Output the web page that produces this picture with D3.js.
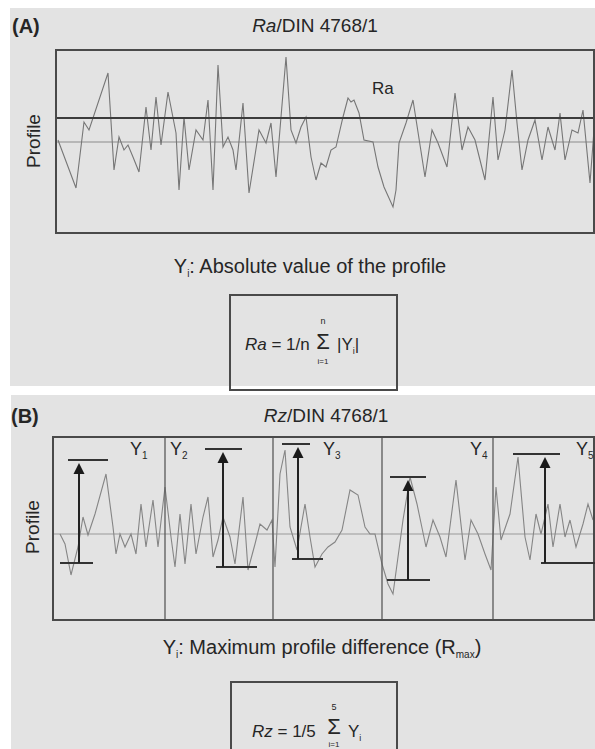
<!DOCTYPE html>
<html>
<head>
<meta charset="utf-8">
<script src="https://cdn.jsdelivr.net/npm/d3@7/dist/d3.min.js"></script>
<style>
	body { margin: 0; background: #fff; }
	text { font-family: 'Liberation Sans', Arial, sans-serif; fill: #262626; }
</style>
</head>
<body>
<div id="container"></div>
<script>

// panel A profile: [position along trace, height above mean line]
var profileA = [[2,2],[20,-46],[28,20],[33,12],[52,69],[58,-28],[63,5],[68,-8],[72,-3],[77,-15],[83,-30],[90,35],[95,-8],[100,45],[105,-3],[112,50],[120,9],[123,-48],[128,25],[133,-28],[140,12],[147,2],[152,42],[157,-48],[162,77],[167,-5],[172,5],[177,-8],[180,-28],[187,39],[193,-51],[203,12],[210,-1],[215,19],[220,-35],[230,85],[235,12],[240,-1],[245,15],[250,25],[255,-15],[260,-38],[265,-21],[270,-25],[275,-8],[280,-5],[287,25],[292,44],[295,40],[298,42],[303,29],[308,2],[317,0],[322,-25],[328,-45],[337,-65],[340,-48],[343,-1],[350,19],[357,42],[369,-35],[376,12],[382,-1],[391,-25],[399,49],[406,-8],[412,15],[419,2],[429,-38],[437,45],[442,-18],[449,12],[456,72],[461,19],[466,-28],[472,2],[479,22],[486,-18],[492,15],[499,-8],[504,29],[509,-18],[516,12],[522,9],[527,32],[534,-41],[538,12]];
var raValue = 24;
var lengthA = 538;

// panel B profile
var profileB = [[7,0],[12,-10],[18,-41],[25,-13],[30,17],[35,-1],[42,20],[53,60],[60,7],[63,-20],[67,0],[72,-13],[78,0],[83,-20],[88,30],[93,-13],[100,34],[105,-13],[112,47],[118,-3],[122,-33],[127,20],[132,-30],[138,30],[143,-20],[150,17],[155,37],[160,-23],[165,-6],[170,17],[177,-3],[182,-30],[190,37],[195,-36],[202,-10],[207,10],[214,4],[219,14],[222,-33],[227,60],[232,84],[237,7],[244,-16],[252,30],[257,-3],[262,-33],[269,-20],[275,-13],[282,-8],[289,4],[297,44],[305,39],[312,7],[317,0],[322,0],[329,-30],[335,-50],[340,-60],[345,-23],[350,14],[357,57],[364,30],[373,-13],[380,14],[387,-3],[393,-23],[403,54],[412,-26],[418,14],[425,0],[432,-20],[438,-36],[443,47],[448,-6],[457,20],[465,77],[472,-3],[477,-26],[483,20],[488,0],[495,30],[500,-13],[507,30],[512,-3],[517,14],[523,-13],[530,10],[535,30],[540,14]];
var segmentBounds = [0,112,220,329,440,542];
var segmentNames = ['1','2','3','4','5'];
var segmentLabelX = [77,117,270,417,523];
// Rmax per sampling length: arrow position, peak, valley, peak bar and valley bar extents
var rmaxX = [26,170,245,355,492];
var rmaxPeak = [74,85,90,57,80];
var rmaxValley = [-29,-33,-25,-46,-29];
var peakBars = [[15,55],[152,189],[229,257],[337,373],[460,507]];
var valleyBars = [[7,40],[163,204],[239,270],[334,377],[488,542]];

var svg = d3.select('#container')
	.append('svg')
	.attr('width',595)
	.attr('height',749);

svg.append('rect').attr('x',10).attr('y',8).attr('width',585).attr('height',378).style('fill','#e3e3e3');
svg.append('rect').attr('x',11).attr('y',395).attr('width',584).attr('height',354).style('fill','#e3e3e3');

function sub(sel, main, s, size){
	sel.append('tspan').text(main);
	sel.append('tspan').attr('dy',4).style('font-size',size + 'px').text(s);
}

// ---------- panel A ----------
var xA = d3.scaleLinear().domain([0,lengthA]).range([56,594]);
var yA = d3.scaleLinear().domain([-91,92]).range([233,50]);

svg.append('text').attr('x',12).attr('y',33).style('font-size','20px').style('font-weight','bold').text('(A)');

var titleA = svg.append('text').attr('x',315).attr('y',32).attr('text-anchor','middle').style('font-size','19px');
titleA.append('tspan').style('font-style','italic').text('Ra');
titleA.append('tspan').text('/DIN 4768/1');

svg.append('text')
	.attr('transform','translate(40,141) rotate(-90)')
	.attr('text-anchor','middle')
	.style('font-size','19px')
	.text('Profile');

svg.append('line')
	.attr('x1',xA(0)).attr('x2',xA(lengthA))
	.attr('y1',yA(0)).attr('y2',yA(0))
	.style('stroke','#8c8c8c').style('stroke-width',1.2);

svg.append('path')
	.datum(profileA)
	.attr('d',d3.line().x(function(d){return xA(d[0]);}).y(function(d){return yA(d[1]);}))
	.style('fill','none').style('stroke','#767676').style('stroke-width',1.1);

svg.append('line')
	.attr('x1',xA(0)).attr('x2',xA(lengthA))
	.attr('y1',yA(raValue)).attr('y2',yA(raValue))
	.style('stroke','#3c3c3c').style('stroke-width',1.8);

svg.append('rect')
	.attr('x',xA(0)).attr('y',yA(92))
	.attr('width',xA(lengthA) - xA(0)).attr('height',yA(-91) - yA(92))
	.style('fill','none').style('stroke','#4a4a4a').style('stroke-width',2);

svg.append('text').attr('x',xA(316)).attr('y',yA(48)).style('font-size','17px').text('Ra');

var capA = svg.append('text').attr('x',310).attr('y',273).attr('text-anchor','middle').style('font-size','20px');
capA.append('tspan').text('Y');
capA.append('tspan').attr('dy',4).style('font-size','10px').text('i');
capA.append('tspan').attr('dy',-4).text(': Absolute value of the profile');

svg.append('rect').attr('x',230).attr('y',295).attr('width',167).attr('height',95)
	.style('fill','none').style('stroke','#4a4a4a').style('stroke-width',2);

var fA = svg.append('text').attr('x',245).attr('y',350).style('font-size','17px');
fA.append('tspan').style('font-style','italic').text('Ra');
fA.append('tspan').text(' = 1/n');
svg.append('text').attr('x',323).attr('y',349).attr('text-anchor','middle').style('font-size','22px').text('\u03a3');
svg.append('text').attr('x',323).attr('y',324).attr('text-anchor','middle').style('font-size','9px').text('n');
svg.append('text').attr('x',323).attr('y',364).attr('text-anchor','middle').style('font-size','8px').text('i=1');
var fA2 = svg.append('text').attr('x',337).attr('y',350).style('font-size','17px');
fA2.append('tspan').text('|Y');
fA2.append('tspan').attr('dy',4).style('font-size','9px').text('i');
fA2.append('tspan').attr('dy',-4).text('|');

// ---------- panel B ----------
var xB = d3.scaleLinear().domain([0,segmentBounds[5]]).range([53,595]);
var yB = d3.scaleLinear().domain([-86,97]).range([620,437]);

svg.append('text').attr('x',11).attr('y',423).style('font-size','20px').style('font-weight','bold').text('(B)');

var titleB = svg.append('text').attr('x',326).attr('y',422).attr('text-anchor','middle').style('font-size','19px');
titleB.append('tspan').style('font-style','italic').text('Rz');
titleB.append('tspan').text('/DIN 4768/1');

svg.append('text')
	.attr('transform','translate(39,527) rotate(-90)')
	.attr('text-anchor','middle')
	.style('font-size','19px')
	.text('Profile');

svg.append('line')
	.attr('x1',xB(0)).attr('x2',xB(segmentBounds[5]))
	.attr('y1',yB(0)).attr('y2',yB(0))
	.style('stroke','#9a9a9a').style('stroke-width',1.2);

svg.append('path')
	.datum(profileB)
	.attr('d',d3.line().x(function(d){return xB(d[0]);}).y(function(d){return yB(d[1]);}))
	.style('fill','none').style('stroke','#858585').style('stroke-width',1.1);

svg.selectAll('.sep')
	.data(segmentBounds.slice(1,5))
	.enter()
	.append('line')
	.attr('class','sep')
	.attr('x1',function(d){return xB(d);}).attr('x2',function(d){return xB(d);})
	.attr('y1',yB(97)).attr('y2',yB(-86))
	.style('stroke','#5a5a5a').style('stroke-width',1.3);

svg.append('rect')
	.attr('x',xB(0)).attr('y',yB(97))
	.attr('width',xB(segmentBounds[5]) - xB(0) - 1).attr('height',yB(-86) - yB(97))
	.style('fill','none').style('stroke','#4a4a4a').style('stroke-width',2);

svg.selectAll('.peak-bar')
	.data(peakBars)
	.enter()
	.append('line')
	.attr('class','peak-bar')
	.attr('x1',function(d){return xB(d[0]);}).attr('x2',function(d){return xB(d[1]);})
	.attr('y1',function(d,i){return yB(rmaxPeak[i]);}).attr('y2',function(d,i){return yB(rmaxPeak[i]);})
	.style('stroke','#333').style('stroke-width',2);

svg.selectAll('.valley-bar')
	.data(valleyBars)
	.enter()
	.append('line')
	.attr('class','valley-bar')
	.attr('x1',function(d){return xB(d[0]);}).attr('x2',function(d){return xB(d[1]);})
	.attr('y1',function(d,i){return yB(rmaxValley[i]);}).attr('y2',function(d,i){return yB(rmaxValley[i]);})
	.style('stroke','#333').style('stroke-width',2);

svg.selectAll('.shaft')
	.data(rmaxX)
	.enter()
	.append('line')
	.attr('class','shaft')
	.attr('x1',function(d){return xB(d);}).attr('x2',function(d){return xB(d);})
	.attr('y1',function(d,i){return yB(rmaxValley[i]);}).attr('y2',function(d,i){return yB(rmaxPeak[i]) + 8;})
	.style('stroke','#222').style('stroke-width',2);

svg.selectAll('.head')
	.data(rmaxX)
	.enter()
	.append('path')
	.attr('class','head')
	.attr('d',function(d,i){
		var x = xB(d), y = yB(rmaxPeak[i]);
		return 'M' + (x - 5.5) + ',' + (y + 14) + 'L' + (x + 5.5) + ',' + (y + 14) + 'L' + x + ',' + (y + 3) + 'Z';
	})
	.style('fill','#1a1a1a');

svg.selectAll('.seg-label')
	.data(segmentNames)
	.enter()
	.append('text')
	.attr('class','seg-label')
	.attr('x',function(d,i){return xB(segmentLabelX[i]);})
	.attr('y',455)
	.style('font-size','18px')
	.each(function(d){ sub(d3.select(this),'Y',d,10); });

var capB = svg.append('text').attr('x',322).attr('y',654).attr('text-anchor','middle').style('font-size','20px');
capB.append('tspan').text('Y');
capB.append('tspan').attr('dy',4).style('font-size','10px').text('i');
capB.append('tspan').attr('dy',-4).text(': Maximum profile difference (R');
capB.append('tspan').attr('dy',4).style('font-size','10px').text('max');
capB.append('tspan').attr('dy',-4).text(')');

svg.append('rect').attr('x',231).attr('y',682).attr('width',166).attr('height',80)
	.style('fill','none').style('stroke','#4a4a4a').style('stroke-width',2);

var fB = svg.append('text').attr('x',252).attr('y',737).style('font-size','17px');
fB.append('tspan').style('font-style','italic').text('Rz');
fB.append('tspan').text(' = 1/5');
svg.append('text').attr('x',334).attr('y',734).attr('text-anchor','middle').style('font-size','22px').text('\u03a3');
svg.append('text').attr('x',334).attr('y',710).attr('text-anchor','middle').style('font-size','9px').text('5');
svg.append('text').attr('x',334).attr('y',747).attr('text-anchor','middle').style('font-size','8px').text('i=1');
var fB2 = svg.append('text').attr('x',348).attr('y',737).style('font-size','17px');
fB2.append('tspan').text('Y');
fB2.append('tspan').attr('dy',4).style('font-size','9px').text('i');

</script>
</body>
</html>
